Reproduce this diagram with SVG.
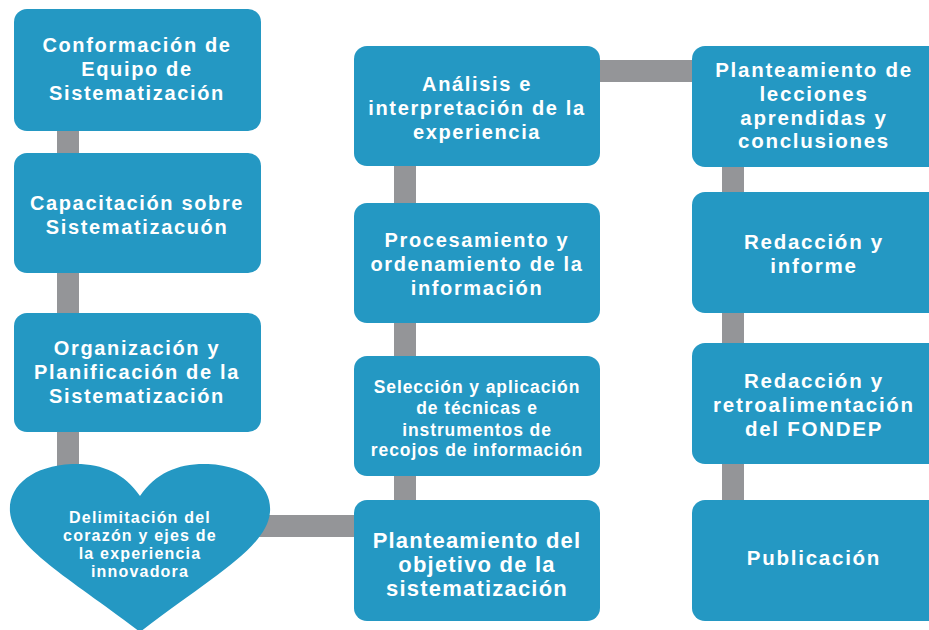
<svg xmlns="http://www.w3.org/2000/svg" width="929" height="630" viewBox="0 0 929 630">
<style>
.box{fill:#2498c3;}
.c{fill:#949598;}
text{font-family:"Liberation Sans",Arial,sans-serif;font-weight:bold;fill:#fff;text-anchor:middle;}
.f20{font-size:20px;letter-spacing:1.65px;}
.f20r{font-size:20.5px;letter-spacing:1.75px;}
.f17{font-size:17.5px;letter-spacing:0.9px;}
.f16{font-size:16px;letter-spacing:1.2px;}
.f22{font-size:22px;letter-spacing:1.2px;}
</style>
<rect width="929" height="630" fill="#fff"/>
<g id="connectors">
<rect class="c" x="57" y="125" width="22" height="345"/>
<rect class="c" x="255" y="515" width="105" height="22"/>
<rect class="c" x="394" y="160" width="22" height="345"/>
<rect class="c" x="595" y="60" width="102" height="22"/>
<rect class="c" x="722" y="160" width="22" height="345"/>
</g>
<g id="n1"><rect class="box" x="14" y="9" width="247" height="122" rx="13"/>
<text class="f20"><tspan x="137" y="52">Conformación de</tspan><tspan x="137" y="76">Equipo de</tspan><tspan x="137" y="100">Sistematización</tspan></text></g>
<g id="n2"><rect class="box" x="14" y="153" width="247" height="120" rx="13"/>
<text class="f20"><tspan x="137" y="210">Capacitación sobre</tspan><tspan x="137" y="234">Sistematizacuón</tspan></text></g>
<g id="n3"><rect class="box" x="14" y="313" width="247" height="119" rx="13"/>
<text class="f20"><tspan x="137" y="355">Organización y</tspan><tspan x="137" y="379">Planificación de la</tspan><tspan x="137" y="403">Sistematización</tspan></text></g>
<g id="n4"><path class="box" d="M140,496 C124,472 100,463 72,464 C32,466 8,486 10,512 C13,548 70,578 140,632 C210,578 267,548 270,512 C272,486 248,466 208,464 C180,463 156,472 140,496 Z"/>
<text class="f16"><tspan x="140" y="523">Delimitación del</tspan><tspan x="140" y="541">corazón y ejes de</tspan><tspan x="140" y="559">la experiencia</tspan><tspan x="140" y="577">innovadora</tspan></text></g>
<g id="n5"><rect class="box" x="354" y="46" width="246" height="120" rx="13"/>
<text class="f20"><tspan x="477" y="91">Análisis e</tspan><tspan x="477" y="115">interpretación de la</tspan><tspan x="477" y="139">experiencia</tspan></text></g>
<g id="n6"><rect class="box" x="354" y="203" width="246" height="120" rx="13"/>
<text class="f20"><tspan x="477" y="247">Procesamiento y</tspan><tspan x="477" y="271">ordenamiento de la</tspan><tspan x="477" y="295">información</tspan></text></g>
<g id="n7"><rect class="box" x="354" y="356" width="246" height="120" rx="13"/>
<text class="f17"><tspan x="477" y="393">Selección y aplicación</tspan><tspan x="477" y="414">de técnicas e</tspan><tspan x="477" y="436">instrumentos de</tspan><tspan x="477" y="456">recojos de información</tspan></text></g>
<g id="n8"><rect class="box" x="354" y="500" width="246" height="121" rx="13"/>
<text class="f22"><tspan x="477" y="548">Planteamiento del</tspan><tspan x="477" y="572">objetivo de la</tspan><tspan x="477" y="596">sistematización</tspan></text></g>
<g id="n9"><rect class="box" x="692" y="46" width="250" height="121" rx="13"/>
<text class="f20r"><tspan x="814" y="77">Planteamiento de</tspan><tspan x="814" y="101">lecciones</tspan><tspan x="814" y="125">aprendidas y</tspan><tspan x="814" y="148">conclusiones</tspan></text></g>
<g id="n10"><rect class="box" x="692" y="192" width="250" height="121" rx="13"/>
<text class="f20r"><tspan x="814" y="249">Redacción y</tspan><tspan x="814" y="273">informe</tspan></text></g>
<g id="n11"><rect class="box" x="692" y="343" width="250" height="121" rx="13"/>
<text class="f20r"><tspan x="814" y="388">Redacción y</tspan><tspan x="814" y="412">retroalimentación</tspan><tspan x="814" y="436">del FONDEP</tspan></text></g>
<g id="n12"><rect class="box" x="692" y="500" width="250" height="121" rx="13"/>
<text class="f20r"><tspan x="814" y="565">Publicación</tspan></text></g>
</svg>
